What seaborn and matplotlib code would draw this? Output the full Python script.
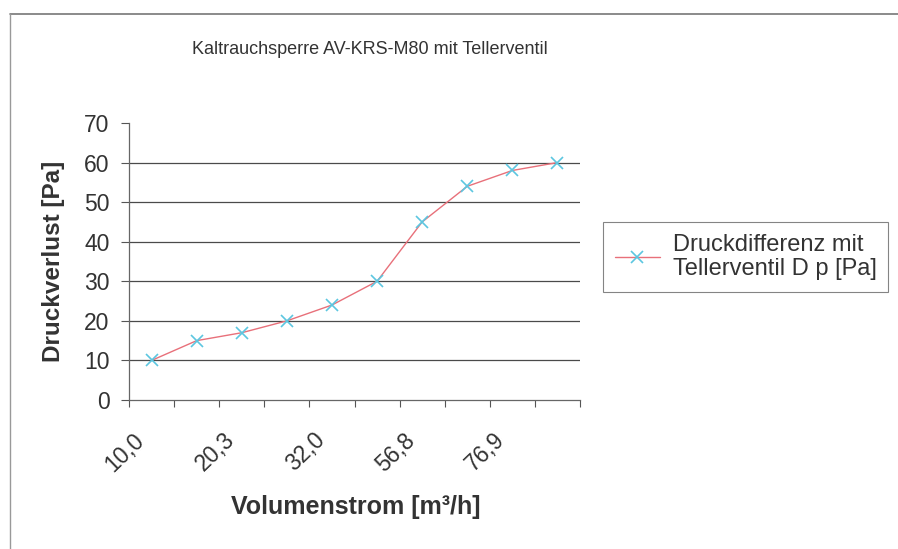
"""
Kaltrauchsperre AV-KRS-M80 - Druckverlust ueber Volumenstrom
"""

import numpy as np
import matplotlib
matplotlib.use('Agg')
import matplotlib.pyplot as plt
import seaborn as sns
from matplotlib.lines import Line2D

# Data
x_labels = ['10,0', '', '20,3', '', '32,0', '', '56,8', '', '76,9', '']
druck_pa = [10, 15, 17, 20, 24, 30, 45, 54, 58, 60]
y_ticks = [0, 10, 20, 30, 40, 50, 60, 70]

sns.set_style('white')
plt.rcParams['font.family'] = ['Liberation Sans', 'DejaVu Sans']

text_color = '#333333'

fig = plt.figure(figsize=(8.98, 5.49), dpi=100)
ax = fig.add_axes([0.1437, 0.2714, 0.5022, 0.5046])

pos = np.arange(len(druck_pa))
sns.lineplot(x=pos, y=druck_pa, ax=ax, color='#e8707a', linewidth=1.0,
             marker='x', markersize=9, markeredgewidth=1.2,
             markeredgecolor='#5cc6e0', label='Druckdifferenz mit\nTellerventil D p [Pa]')

# Excel style category axis: ticks between categories, labels every 2nd
ax.set_xlim(-0.5, len(druck_pa) - 0.5)
ax.set_xticks(np.append(pos - 0.5, len(pos) - 0.5))
ax.set_xticklabels([''] * (len(pos) + 1))
for p, lab in zip(pos, x_labels):
    if lab:
        ax.text(p - 0.24, -9.3, lab, rotation=44, ha='right', va='center',
                fontsize=16.5, color=text_color, rotation_mode='anchor')

ax.set_ylim(0, 70)
ax.set_yticks(y_ticks)
ax.tick_params(axis='y', labelsize=16.5, colors=text_color, length=6, width=0.8,
               pad=8, direction='out', left=True)
ax.tick_params(axis='y', color='#555555')
ax.tick_params(axis='x', length=5, width=0.8, direction='out', bottom=True, color='#555555')
for y in y_ticks[1:-1]:
    ax.axhline(y, color='#4a4a4a', linewidth=0.9, zorder=0)

for s in ['top', 'right']:
    ax.spines[s].set_visible(False)
for s in ['left', 'bottom']:
    ax.spines[s].set_color('#666666')
    ax.spines[s].set_linewidth(0.9)

ax.set_ylabel('Druckverlust [Pa]', fontsize=17.5, fontweight='bold', color=text_color)
ax.yaxis.label.set_va('center')
ax.yaxis.set_label_coords(-0.168, 0.5)
ax.set_xlabel('Volumenstrom [m³/h]', fontsize=18, fontweight='bold', color=text_color)
ax.xaxis.label.set_va('center')
ax.xaxis.set_label_coords(0.503, -0.386)
ax.set_title('Kaltrauchsperre AV-KRS-M80 mit Tellerventil', fontsize=13, color=text_color,
             pad=50, x=0.535)

leg = ax.legend(loc='upper left', bbox_to_anchor=(1.051, 0.643), fontsize=17, frameon=True,
                fancybox=False, edgecolor='#666666', handlelength=1.9, borderpad=0.5,
                labelspacing=0.15, handletextpad=0.55, borderaxespad=0)
leg.get_frame().set_linewidth(0.8)
for t in leg.get_texts():
    t.set_color(text_color)
    t.set_linespacing(1.15)

# Outer chart frame
fig.add_artist(Line2D([0.011, 1.0], [0.975, 0.975], transform=fig.transFigure, color='#777777', lw=1.2))
fig.add_artist(Line2D([0.011, 0.011], [0.0, 0.975], transform=fig.transFigure, color='#999999', lw=1.0))

fig.savefig('out.png', dpi=100)
plt.close(fig)
